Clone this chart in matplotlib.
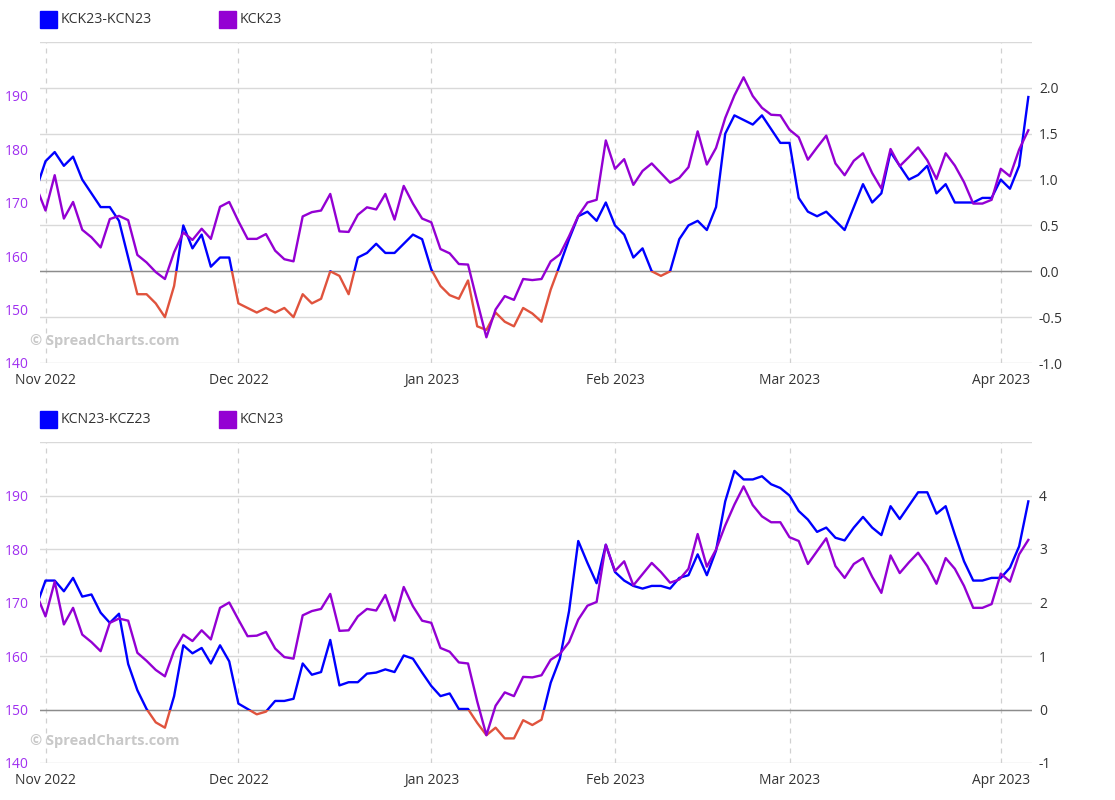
import numpy as np
import pandas as pd
import matplotlib
matplotlib.use('Agg')
import matplotlib.pyplot as plt
from matplotlib.patches import Rectangle

plt.rcParams['font.family'] = ['Open Sans', 'DejaVu Sans']

# ---------------- data ----------------
holidays = ['2022-11-24', '2022-12-26', '2023-01-02', '2023-01-16', '2023-02-20']
dates = pd.bdate_range('2022-10-31', '2023-04-06')
dates = dates[~dates.isin(pd.to_datetime(holidays))]

top_spread_name = 'KCK23-KCN23'
top_price_name = 'KCK23'
bot_spread_name = 'KCN23-KCZ23'
bot_price_name = 'KCN23'

top_price = [172.9,
    168.5, 175.1, 167.0, 170.1, 164.9, 163.5, 161.6, 166.9, 167.5, 166.7, 160.2, 158.8,
    157.0, 155.7, 160.7, 164.4, 163.0, 165.1, 163.2, 169.2, 170.1, 166.5, 163.2, 163.2,
    164.1, 161.0, 159.4, 159.0, 167.4, 168.2, 168.5, 171.6, 164.6, 164.5, 167.7, 169.1,
    168.7, 171.6, 166.8, 173.1, 169.8, 167.0, 166.3, 161.3, 160.5, 158.5, 158.4, 151.5,
    144.8, 150.0, 152.5, 151.8, 155.7, 155.5, 155.7, 159.0, 160.3, 163.7, 167.5, 170.0,
    170.5, 181.6, 176.3, 178.1, 173.3, 175.9, 177.3, 175.5, 173.7, 174.6, 176.6, 183.3,
    177.1, 180.2, 185.8, 190.0, 193.4, 189.9, 187.7, 186.4, 186.3, 183.6, 182.2, 178.0,
    180.3, 182.5, 177.3, 175.1, 177.8, 179.2, 175.5, 172.6, 180.0, 176.8, 178.5, 180.3,
    177.9, 174.4, 179.2, 176.9, 173.8, 169.8, 169.8, 170.5, 176.3, 174.9, 179.9, 183.5]

top_spread = [0.90,
    1.20, 1.30, 1.15, 1.25, 1.00, 0.85, 0.70, 0.70, 0.55, 0.15, -0.25, -0.25,
    -0.35, -0.50, -0.16, 0.50, 0.25, 0.40, 0.05, 0.15, 0.15, -0.35, -0.40, -0.45,
    -0.40, -0.45, -0.40, -0.50, -0.25, -0.35, -0.30, 0.00, -0.05, -0.25, 0.15, 0.20,
    0.30, 0.20, 0.20, 0.30, 0.40, 0.35, 0.02, -0.16, -0.26, -0.30, -0.10, -0.60,
    -0.64, -0.45, -0.55, -0.60, -0.40, -0.46, -0.55, -0.20, 0.07, 0.35, 0.60, 0.65,
    0.55, 0.75, 0.50, 0.40, 0.15, 0.25, 0.00, -0.05, 0.00, 0.35, 0.50, 0.55,
    0.45, 0.70, 1.50, 1.70, 1.65, 1.60, 1.70, 1.55, 1.40, 1.40, 0.80, 0.65,
    0.60, 0.65, 0.55, 0.45, 0.70, 0.95, 0.75, 0.85, 1.30, 1.15, 1.00, 1.05,
    1.15, 0.85, 0.95, 0.75, 0.75, 0.75, 0.80, 0.80, 1.00, 0.90, 1.15, 1.90]

bot_price = [171.6,
    167.4, 173.9, 165.9, 169.0, 164.0, 162.6, 160.9, 166.2, 167.0, 166.6, 160.6, 159.1,
    157.4, 156.2, 161.0, 164.0, 162.8, 164.8, 163.1, 169.0, 170.0, 166.8, 163.7, 163.8,
    164.5, 161.4, 159.8, 159.5, 167.6, 168.4, 168.8, 171.6, 164.7, 164.8, 167.4, 168.8,
    168.5, 171.4, 166.6, 172.9, 169.3, 166.6, 166.2, 161.5, 160.8, 158.8, 158.6, 151.5,
    145.2, 150.7, 153.2, 152.5, 156.1, 156.0, 156.4, 159.3, 160.4, 162.6, 166.8, 169.4,
    170.1, 180.8, 175.9, 177.7, 173.2, 175.3, 177.4, 175.7, 173.7, 174.3, 176.3, 182.8,
    176.7, 179.9, 184.4, 188.3, 191.7, 188.2, 186.1, 185.0, 185.0, 182.2, 181.5, 177.2,
    179.6, 182.0, 176.8, 174.6, 177.2, 178.3, 174.8, 171.8, 178.8, 175.5, 177.5, 179.3,
    176.8, 173.5, 178.3, 176.3, 173.1, 169.0, 169.0, 169.7, 175.4, 173.9, 179.0, 181.7]

bot_spread = [1.93,
    2.41, 2.41, 2.21, 2.46, 2.11, 2.15, 1.81, 1.62, 1.79, 0.85, 0.36, 0.01,
    -0.24, -0.34, 0.25, 1.20, 1.05, 1.15, 0.86, 1.20, 0.90, 0.11, 0.01, -0.09,
    -0.04, 0.16, 0.16, 0.20, 0.86, 0.65, 0.70, 1.30, 0.45, 0.51, 0.51, 0.67,
    0.69, 0.75, 0.70, 1.01, 0.95, 0.69, 0.44, 0.25, 0.30, 0.01, 0.01, -0.25,
    -0.48, -0.34, -0.54, -0.54, -0.20, -0.29, -0.19, 0.50, 0.95, 1.84, 3.15, 2.74,
    2.36, 3.08, 2.57, 2.41, 2.31, 2.26, 2.31, 2.31, 2.26, 2.46, 2.51, 2.90,
    2.51, 2.97, 3.89, 4.46, 4.30, 4.30, 4.36, 4.21, 4.14, 4.00, 3.71, 3.55,
    3.32, 3.40, 3.21, 3.16, 3.40, 3.60, 3.40, 3.26, 3.80, 3.56, 3.81, 4.06,
    4.06, 3.66, 3.80, 3.27, 2.77, 2.41, 2.41, 2.46, 2.46, 2.65, 3.05, 3.89]

price_ticks = [140, 150, 160, 170, 180, 190]
top_spread_ticks = [-1.0, -0.5, 0.0, 0.5, 1.0, 1.5, 2.0, 2.5]
top_spread_labels = ['-1.0', '-0.5', '0.0', '0.5', '1.0', '1.5', '2.0', '']
bot_spread_ticks = [-1, 0, 1, 2, 3, 4, 5]
bot_spread_labels = ['-1', '0', '1', '2', '3', '4', '']

# ---------------- style ----------------
W, H = 1115, 800
BLUE = '#0000FF'
RED = '#E0533D'
PURPLE = '#9400D3'
PURPLE_LBL = '#A030F0'
TXT = '#333333'

pos = np.arange(len(dates))
s = pd.Series(pos, index=dates)
firsts = s.groupby(dates.to_period('M')).first()
firsts = firsts[firsts.index >= pd.Period('2022-11', 'M')]
month_pos = firsts.values
month_lbl = [p.strftime('%b %Y') for p in firsts.index]

XLIM = (0.4, 108.4)

fig = plt.figure(figsize=(W / 100, H / 100), dpi=100)


def panel(top_px, bot_px, spread, price, slim, sticks, slabels, sname, pname, leg_y):
    rect = [40 / W, 1 - bot_px / H, 992 / W, (bot_px - top_px) / H]
    ax = fig.add_axes(rect)
    ax2 = ax.twinx()
    ax.set_xlim(*XLIM)
    ax.set_ylim(*slim)
    for sp in ax.spines.values():
        sp.set_visible(False)
    ax.set_axisbelow(True)
    ax.set_yticks(sticks)
    ax.set_yticklabels(slabels)
    ax.yaxis.tick_right()
    ax.tick_params(axis='y', which='both', left=False, labelleft=False,
                   right=False, labelright=True, length=0, pad=5,
                   labelcolor=TXT, labelsize=10)
    ax.yaxis.grid(True, color='#d9d9d9', lw=1)
    ax.set_xticks(month_pos)
    ax.set_xticklabels(month_lbl)
    ax.tick_params(axis='x', length=0, pad=7, labelcolor=TXT, labelsize=10)
    ax.xaxis.grid(True, color='#d0d0d0', lw=0.9, ls=(0, (4, 4)))
    ax.axhline(0, color='#8c8c8c', lw=1, zorder=1.5)

    lb, = ax.plot(pos, spread, color=BLUE, lw=1.7, zorder=3)
    lr, = ax.plot(pos, spread, color=RED, lw=1.7, zorder=3)
    wid = XLIM[1] - XLIM[0]
    lb.set_clip_path(Rectangle((XLIM[0], 0), wid, 100, transform=ax.transData))
    lr.set_clip_path(Rectangle((XLIM[0], -100), wid, 100, transform=ax.transData))

    ax2.set_ylim(140, 200)
    for sp in ax2.spines.values():
        sp.set_visible(False)
    ax2.set_yticks(price_ticks)
    ax2.yaxis.tick_left()
    ax2.tick_params(axis='y', left=False, labelleft=True, right=False, labelright=False,
                    length=0, pad=8, labelcolor=PURPLE_LBL, labelsize=10)
    ax2.plot(pos, price, color=PURPLE, lw=1.7)

    # legend
    fig.patches.append(Rectangle((40 / W, 1 - (leg_y + 8.5) / H), 17 / W, 17 / H,
                                 transform=fig.transFigure, color=BLUE))
    fig.text(61 / W, 1 - leg_y / H, sname, va='center', ha='left', fontsize=10.2, color=TXT)
    fig.patches.append(Rectangle((219 / W, 1 - (leg_y + 8.5) / H), 17 / W, 17 / H,
                                 transform=fig.transFigure, color=PURPLE))
    fig.text(240 / W, 1 - leg_y / H, pname, va='center', ha='left', fontsize=10.2, color=TXT)

    # watermark
    fig.text(30 / W, 1 - (bot_px - 22) / H, '\u00a9 SpreadCharts.com', ha='left', va='center',
             fontsize=10.5, weight='bold', color='#c8c8c8')


panel(42, 363, top_spread, top_price, (-1.0, 2.5), top_spread_ticks, top_spread_labels,
      top_spread_name, top_price_name, 19.5)
panel(442, 763, bot_spread, bot_price, (-1, 5), bot_spread_ticks, bot_spread_labels,
      bot_spread_name, bot_price_name, 419.5)

fig.savefig('out.png', dpi=100)
